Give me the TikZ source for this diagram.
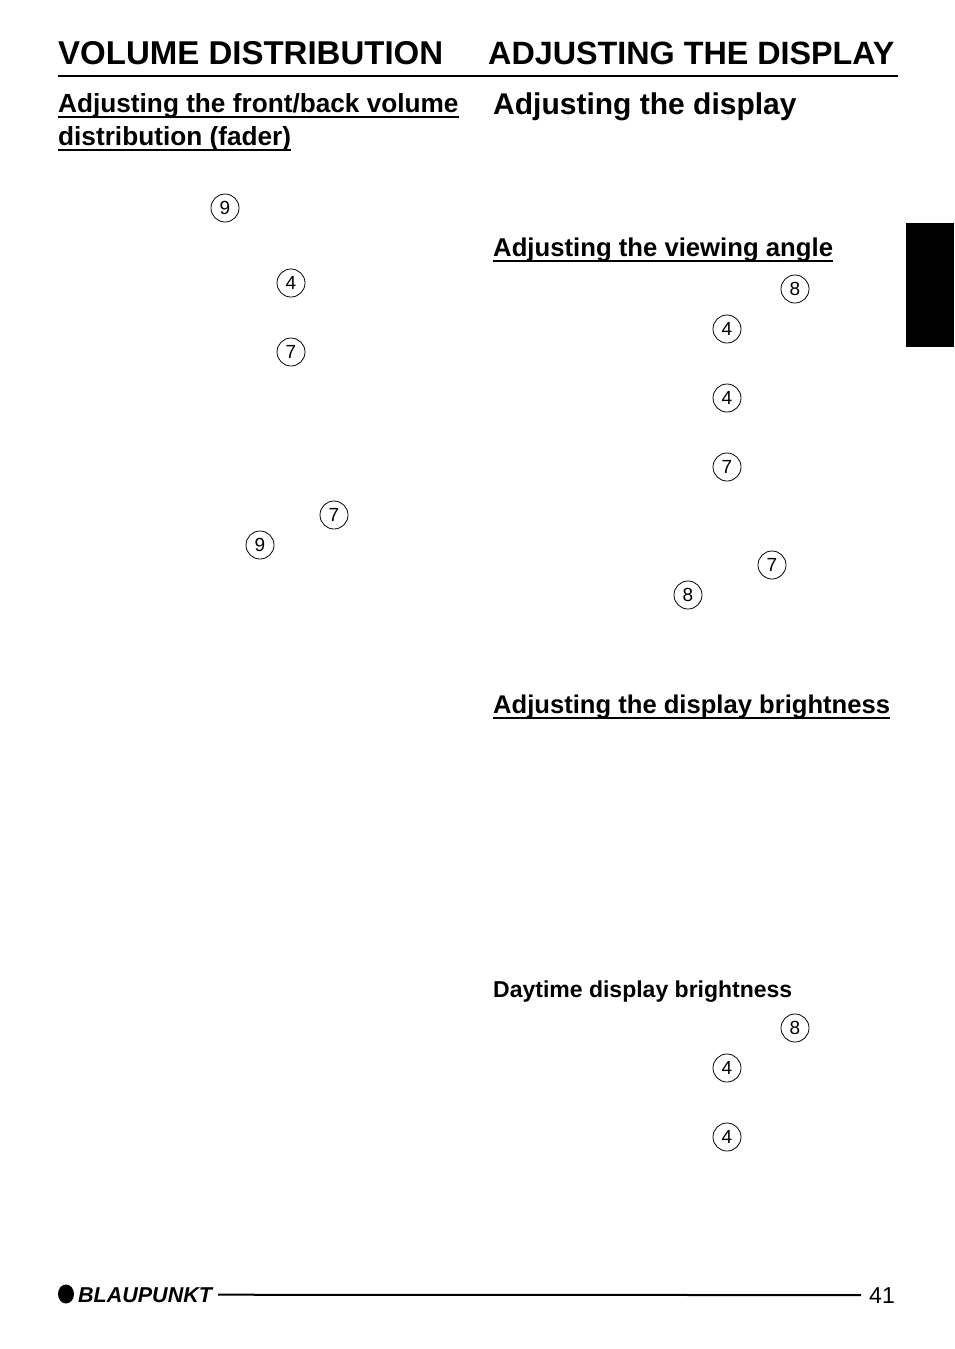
\documentclass[tikz,border=0pt]{standalone}
\usepackage{fontspec}
\setmainfont{Liberation Sans}
\usetikzlibrary{positioning}
\newcommand{\pagefont}[1]% size in pt
{\fontsize{#1}{#1}\selectfont
}
\newcommand{\underrule}[1]% node name
{([yshift=-5pt]#1.base west) -- ([yshift=-5pt]#1.base east)
}

\begin{document}
\begin{tikzpicture}[x=1pt,y=-1pt]
\tikzstyle{key}=[draw,shape=circle,minimum size=28pt,inner sep=0pt,line width=.8pt,font=\pagefont{19}]
\tikzstyle{head}=[anchor=base west,inner sep=0pt,font=\pagefont{33}\bfseries]
\tikzstyle{sub}=[anchor=base west,inner sep=0pt,font=\pagefont{25.7}\bfseries]
\tikzstyle{uline}=[line width=2pt]

\useasboundingbox (0,0) rectangle (954,1349);

% page headings
\draw (58,64) node[head] (vol) {VOLUME DISTRIBUTION}; % left
\draw (488,64) node[head,font=\pagefont{32.3}\bfseries] (disp) {ADJUSTING THE DISPLAY}; % right
\draw[line width=2.5pt] (58,76) -- (898,76);

% left column
\draw (58,112) node[sub,font=\pagefont{26.2}\bfseries] (fader1) {Adjusting the front/back volume};
\draw (58,145) node[sub,font=\pagefont{26.2}\bfseries] (fader2) {distribution (fader)};
\draw[uline] \underrule{fader1};
\draw[uline] \underrule{fader2};

\draw (225,208) node[key] (l9a) {9};
\draw (291,283) node[key] (l4) {4};
\draw (291,352) node[key] (l7a) {7};
\draw (334,515) node[key] (l7b) {7};
\draw (260,545) node[key] (l9b) {9};

% right column
\draw (493,114) node[sub,font=\pagefont{30}\bfseries] (adj) {Adjusting the display};

\draw (493,256) node[sub] (angle) {Adjusting the viewing angle};
\draw[uline] \underrule{angle};
\draw (795,289) node[key] (r8a) {8};
\draw (727,329) node[key] (r4a) {4};
\draw (727,398) node[key] (r4b) {4};
\draw (727,467) node[key] (r7a) {7};
\draw (772,565) node[key] (r7b) {7};
\draw (688,595) node[key] (r8b) {8};

\draw (493,713) node[sub,font=\pagefont{25.6}\bfseries] (bright) {Adjusting the display brightness};
\draw[uline] \underrule{bright};

\draw (493,997) node[sub,font=\pagefont{23}\bfseries] (day) {Daytime display brightness};
\draw (795,1028) node[key] (r8c) {8};
\draw (727,1068) node[key] (r4c) {4};
\draw (727,1137) node[key] (r4d) {4};

% black tab
\fill (906,223) rectangle (954,347);

% footer
\fill (66,1294) ellipse (8 and 9.5); % logo dot
\draw (78,1302) node[anchor=base west,inner sep=0pt,font=\pagefont{21.5}\bfseries\itshape] (brand) {BLAUPUNKT};
\draw (895,1303) node[anchor=base east,inner sep=0pt,font=\pagefont{23}] (page) {41};
\draw[line width=2pt,shorten <=6pt,shorten >=8pt] (brand.east) -- (page.west);
\end{tikzpicture}
\end{document}
